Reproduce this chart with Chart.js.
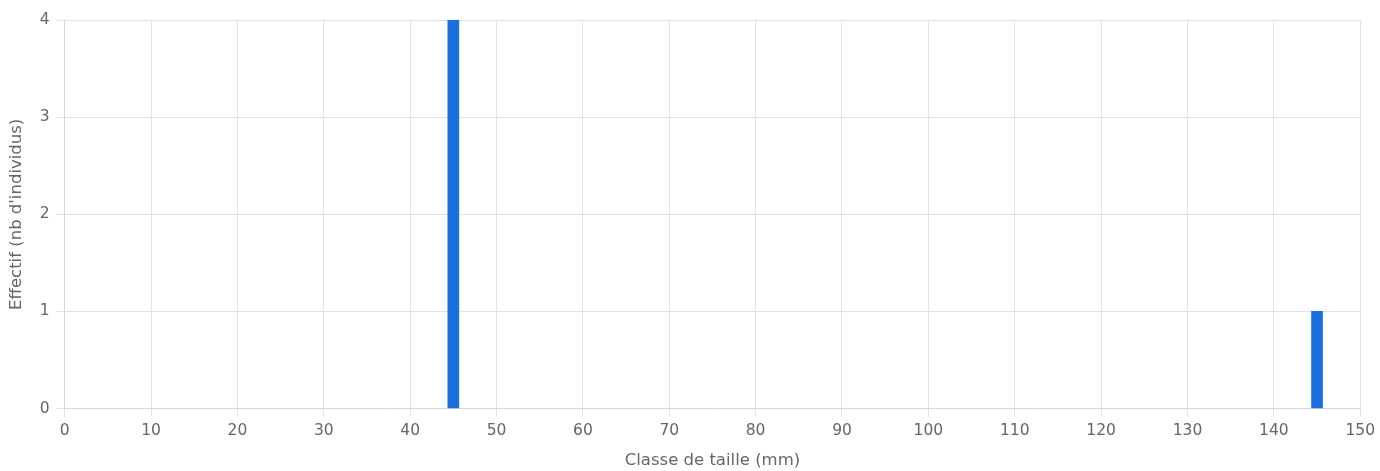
<!DOCTYPE html>
<html lang="fr">
<head>
  <meta charset="UTF-8">
  <title>Effectif par classe de taille</title>
  <script src="https://cdn.jsdelivr.net/npm/chart.js"></script>
  <style>
    body {
      margin: 0;
      background: #fff;
    }
    #wrap {
      width: 1380px;
      height: 471px;
    }
  </style>
</head>
<body>
  <div id="wrap"><canvas id="chartTaille"></canvas></div>

  <script>
    // Classes de taille (mm) et effectifs
    const classes = [45, 145];
    const effectifs = [4, 1];
    const xTicks = [0, 10, 20, 30, 40, 50, 60, 70, 80, 90, 100, 110, 120, 130, 140, 150];
    const yTicks = [0, 1, 2, 3, 4];

    const points = classes.map((c, i) => ({ x: c, y: effectifs[i] }));

    new Chart(document.getElementById('chartTaille'), {
      type: 'bar',
      data: {
        datasets: [{
          label: 'Effectif',
          data: points,
          backgroundColor: '#1a6fdc',
          barThickness: 11
        }]
      },
      options: {
        responsive: true,
        maintainAspectRatio: false,
        animation: false,
        layout: { padding: { top: 20, right: 18, left: 7, bottom: 0 } },
        plugins: {
          legend: { display: false },
          tooltip: { enabled: false }
        },
        scales: {
          x: {
            type: 'linear',
            min: 0,
            max: 150,
            offset: false,
            afterBuildTicks: axis => { axis.ticks = xTicks.map(v => ({ value: v })); },
            ticks: { color: '#666', font: { family: 'DejaVu Sans', size: 15.5 }, padding: 5 },
            grid: { color: '#e2e2e2', tickLength: 8, offset: false },
            border: { color: '#d8d8d8' },
            title: {
              display: true,
              text: 'Classe de taille (mm)',
              color: '#666',
              font: { family: 'DejaVu Sans', size: 16.5 },
              padding: { top: 6, bottom: 0 }
            }
          },
          y: {
            min: 0,
            max: 4,
            afterBuildTicks: axis => { axis.ticks = yTicks.map(v => ({ value: v })); },
            ticks: { color: '#666', font: { family: 'DejaVu Sans', size: 15.5 }, padding: 7 },
            grid: { color: '#e2e2e2', tickLength: 8 },
            border: { color: '#d8d8d8' },
            title: {
              display: true,
              text: "Effectif (nb d'individus)",
              color: '#666',
              font: { family: 'DejaVu Sans', size: 16.5 },
              padding: { top: 0, bottom: 6 }
            }
          }
        }
      }
    });
  </script>
</body>
</html>
